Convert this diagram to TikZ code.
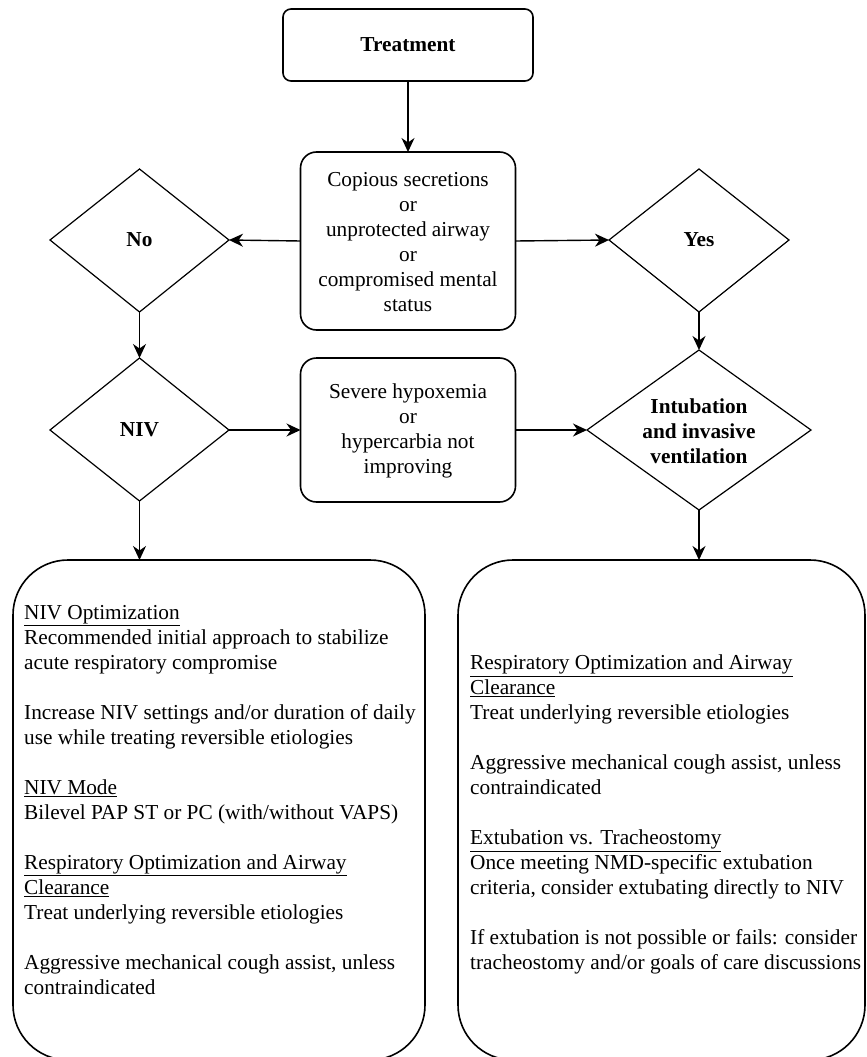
\documentclass[tikz,border=0pt]{standalone}
\usepackage{fontspec}
\setmainfont{Liberation Serif}
\usetikzlibrary{shapes.geometric,arrows.meta}
\begin{document}
\begin{tikzpicture}[x=1pt,y=-1pt,
  every node/.style={font=\fontsize{21.3}{25}\selectfont},
  rbox/.style={draw,line width=1.6pt,rounded corners=#1},
  dshape/.style={draw,line width=1.2pt},
  conn/.style={line width=1.4pt,-{Stealth[length=14pt,width=13pt,inset=4.5pt]}},
  hdr/.style={font=\fontsize{21.3}{25}\selectfont\bfseries},
  body/.style={align=left,anchor=north west,inner sep=0pt}]
\useasboundingbox (0,0) rectangle (867,1057);
% shapes
\draw[rbox=8pt] (283,9) rectangle (533,81);
\node[hdr] (treat) at (408,45) {Treatment};
\coordinate (treatS) at (408,81);

\draw[rbox=16pt] (300.5,152) rectangle (515.5,330);
\node[align=center,inner sep=0pt] (copious) at (408,242) {Copious secretions\\or\\unprotected airway\\or\\compromised mental\\status};
\coordinate (copN) at (408,152);
\coordinate (copW) at (300.5,241);
\coordinate (copE) at (515.5,241);

\draw[dshape] (50,240) -- (139.5,169) -- (229,240) -- (139.5,312) -- cycle;
\node[hdr] (no) at (139.5,240) {No};
\coordinate (noE) at (229,240);
\coordinate (noS) at (139.5,312);

\draw[dshape] (609,240) -- (699,169) -- (789,240) -- (699,312) -- cycle;
\node[hdr] (yes) at (699,240) {Yes};
\coordinate (yesW) at (609,240);
\coordinate (yesS) at (699,312);

\draw[dshape] (50,430) -- (139.5,358) -- (229,430) -- (139.5,501) -- cycle;
\node[hdr] (niv) at (139.5,430) {NIV};
\coordinate (nivN) at (139.5,358);
\coordinate (nivE) at (229,430);
\coordinate (nivS) at (139.5,501);

\draw[rbox=16pt] (300.5,358) rectangle (515.5,502);
\node[align=center,inner sep=0pt] (severe) at (408,431) {Severe hypoxemia\\or\\hypercarbia not\\improving};
\coordinate (sevW) at (300.5,430);
\coordinate (sevE) at (515.5,430);

\draw[dshape] (587,430) -- (699,350) -- (811,430) -- (699,510) -- cycle;
\node[hdr,align=center,inner sep=0pt] (intub) at (699,431) {Intubation\\and invasive\\ventilation};
\coordinate (intN) at (699,350);
\coordinate (intW) at (587,430);
\coordinate (intS) at (699,510);

\draw[line width=1.6pt,rounded corners=55pt] (13,560) rectangle (425,1060);
\coordinate (leftN) at (139.5,560);
\draw[line width=1.6pt,rounded corners=55pt] (458,560) rectangle (865,1060);
\coordinate (rightN) at (699,560);

\node[body] (lefttext) at (24,605) {\underline{NIV Optimization}\\
Recommended initial approach to stabilize\\
acute respiratory compromise\\[25pt]
Increase NIV settings and/or duration of daily\\
use while treating reversible etiologies\\[25pt]
\underline{NIV Mode}\\
Bilevel PAP ST or PC (with/without VAPS)\\[25pt]
\underline{Respiratory Optimization and Airway}\\
\underline{Clearance}\\
Treat underlying reversible etiologies\\[25pt]
Aggressive mechanical cough assist, unless\\
contraindicated};

\node[body] (righttext) at (470,655) {\underline{Respiratory Optimization and Airway}\\
\underline{Clearance}\\
Treat underlying reversible etiologies\\[25pt]
Aggressive mechanical cough assist, unless\\
contraindicated\\[25pt]
\underline{Extubation vs. Tracheostomy}\\
Once meeting NMD-specific extubation\\
criteria, consider extubating directly to NIV\\[25pt]
If extubation is not possible or fails: consider\\
tracheostomy and/or goals of care discussions};

% connectors
\draw[conn] (treatS) -- (copN);
\draw[conn] (copW) -- (noE);
\draw[conn] (copE) -- (yesW);
\draw[conn] (noS) -- (nivN);
\draw[conn] (yesS) -- (intN);
\draw[conn] (nivE) -- (sevW);
\draw[conn] (sevE) -- (intW);
\draw[conn] (nivS) -- (leftN);
\draw[conn] (intS) -- (rightN);
\end{tikzpicture}
\end{document}
